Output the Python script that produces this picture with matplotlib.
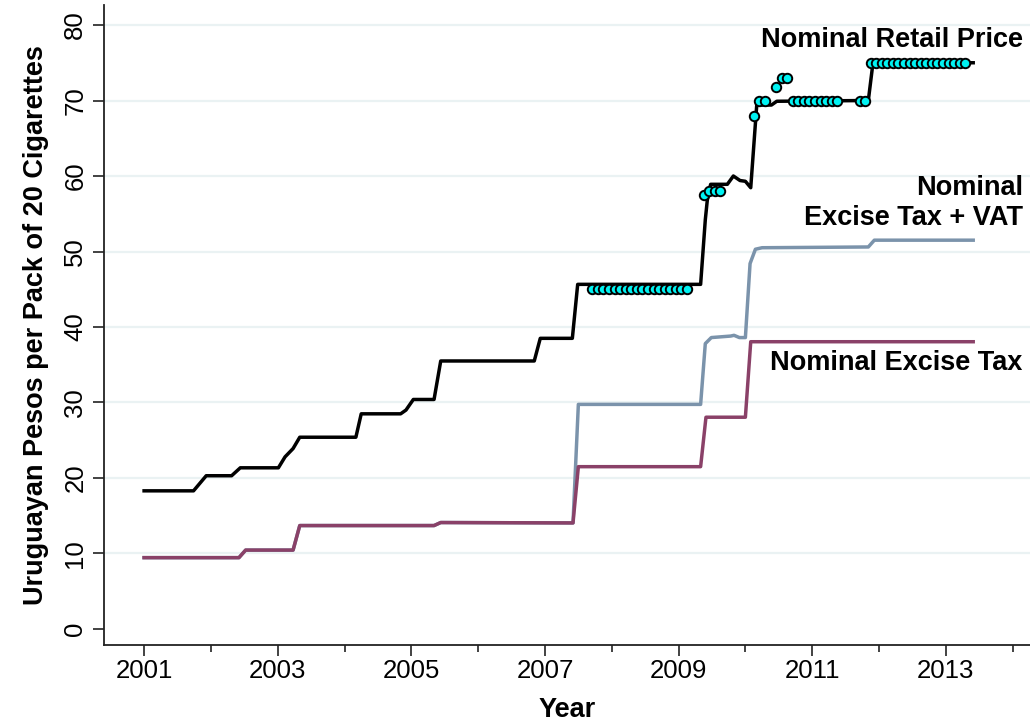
import matplotlib
matplotlib.use("Agg")
import matplotlib.pyplot as plt

plt.rcParams['font.family'] = ['Liberation Sans', 'DejaVu Sans']

# ---- data (decimal years, pesos per pack) ----
retail_x = [2001.0, 2001.74, 2001.93, 2002.31, 2002.44, 2003.01, 2003.11, 2003.23,
            2003.33, 2004.17, 2004.25, 2004.84, 2004.92, 2005.03, 2005.34, 2005.44,
            2006.84, 2006.93, 2007.41, 2007.49, 2009.33, 2009.40, 2009.43, 2009.48,
            2009.73, 2009.82, 2009.92, 2010.0, 2010.08, 2010.17, 2010.39, 2010.47,
            2011.84, 2011.91, 2013.41]
retail_y = [18.3, 18.3, 20.3, 20.3, 21.35, 21.35, 22.8, 23.9,
            25.4, 25.4, 28.5, 28.5, 29.0, 30.4, 30.4, 35.5,
            35.5, 38.5, 38.5, 45.65, 45.65, 54.2, 56.8, 58.9,
            58.9, 60.0, 59.4, 59.3, 58.45, 69.4, 69.4, 69.9,
            70.0, 75.0, 75.0]

vat_x = [2001.0, 2002.42, 2002.52, 2003.23, 2003.33, 2005.34, 2005.44, 2007.42,
         2007.50, 2009.33, 2009.40, 2009.49, 2009.78, 2009.83, 2009.91, 2010.0,
         2010.07, 2010.15, 2010.25, 2011.84, 2011.93, 2013.41]
vat_y = [9.45, 9.45, 10.45, 10.45, 13.7, 13.7, 14.1, 14.05,
         29.75, 29.75, 37.8, 38.6, 38.8, 38.9, 38.6, 38.6,
         48.4, 50.3, 50.5, 50.6, 51.5, 51.5]

excise_x = [2001.0, 2002.42, 2002.52, 2003.23, 2003.33, 2005.34, 2005.44, 2007.42,
            2007.50, 2009.33, 2009.41, 2010.0, 2010.08, 2013.41]
excise_y = [9.45, 9.45, 10.45, 10.45, 13.7, 13.7, 14.1, 14.05,
            21.5, 21.5, 28.05, 28.05, 38.05, 38.05]

# surveyed retail prices (month, price)
survey_months = (
    ['2007-09', '2007-10', '2007-11', '2007-12'] +
    ['2008-%02d' % m for m in range(1, 13)] +
    ['2009-01', '2009-02',
     '2009-05', '2009-06', '2009-07', '2009-08',
     '2010-02', '2010-03', '2010-04', '2010-06', '2010-07', '2010-08',
     '2010-09', '2010-10', '2010-11', '2010-12',
     '2011-01', '2011-02', '2011-03', '2011-04', '2011-05',
     '2011-09', '2011-10', '2011-11', '2011-12'] +
    ['2012-%02d' % m for m in range(1, 13)] +
    ['2013-01', '2013-02', '2013-03', '2013-04']
)
survey_price = (
    [45.0] * 18 +
    [57.5, 58.0, 58.0, 58.0,
     67.95, 70.0, 70.0, 71.8, 73.0, 73.0] +
    [70.0] * 9 +
    [70.0, 70.0] +
    [75.0] * 18
)

year_ticks = [2001, 2003, 2005, 2007, 2009, 2011, 2013]
minor_ticks = [2002, 2004, 2006, 2008, 2010, 2012, 2014]

survey_x = [int(s[:4]) + (int(s[5:]) - 0.5) / 12 for s in survey_months]

# ---- figure ----
fig = plt.figure(figsize=(10.30, 7.26), dpi=100)
ax = fig.add_axes([104 / 1030, 81 / 726, 926 / 1030, 640 / 726])

for v in range(10, 90, 10):
    ax.axhline(v, color='#eaf2f3', lw=1.6, zorder=0)

ax.plot(vat_x, vat_y, color='#7b93ab', lw=2.5, zorder=2)
ax.plot(excise_x, excise_y, color='#8a4168', lw=2.5, zorder=3)
ax.plot(retail_x, retail_y, color='black', lw=2.5, zorder=4)
ax.plot(survey_x, survey_price, 'o', ms=6.8, mfc='#00f2f2', mec='black',
        mew=1.4, lw=0, zorder=5)

ax.set_xlim(2000.40, 2014.26)
ax.set_ylim(-2.12, 82.65)
ax.set_xticks(year_ticks)
ax.set_xticks(minor_ticks, minor=True)
ax.set_yticks(range(0, 90, 10))

for s in ['top', 'right']:
    ax.spines[s].set_visible(False)
for s in ['left', 'bottom']:
    ax.spines[s].set_linewidth(1.3)
    ax.spines[s].set_color('#222222')

ax.tick_params(axis='both', which='major', length=8, width=1.2, color='#222222',
               labelsize=18.5)
ax.tick_params(axis='x', which='minor', length=5, width=1.2, color='#222222')
ax.tick_params(axis='x', which='major', pad=2)
ax.tick_params(axis='y', which='major', pad=4)
for lab in ax.get_yticklabels():
    lab.set_rotation(90)
    lab.set_va('center')

ax.set_xlabel('Year', fontsize=19.5, fontweight='bold', labelpad=10)
ax.set_ylabel('Uruguayan Pesos per Pack of 20 Cigarettes', fontsize=19.5,
              fontweight='bold', labelpad=10)

ax.text(2014.15, 78.0, 'Nominal Retail Price', ha='right', va='center',
        fontsize=19.5, fontweight='bold')
ax.text(2014.15, 56.4, 'Nominal\nExcise Tax + VAT', ha='right', va='center',
        fontsize=19.5, fontweight='bold', linespacing=1.2)
ax.text(2014.15, 35.2, 'Nominal Excise Tax', ha='right', va='center',
        fontsize=19.5, fontweight='bold')

fig.savefig('out.png', dpi=100)
